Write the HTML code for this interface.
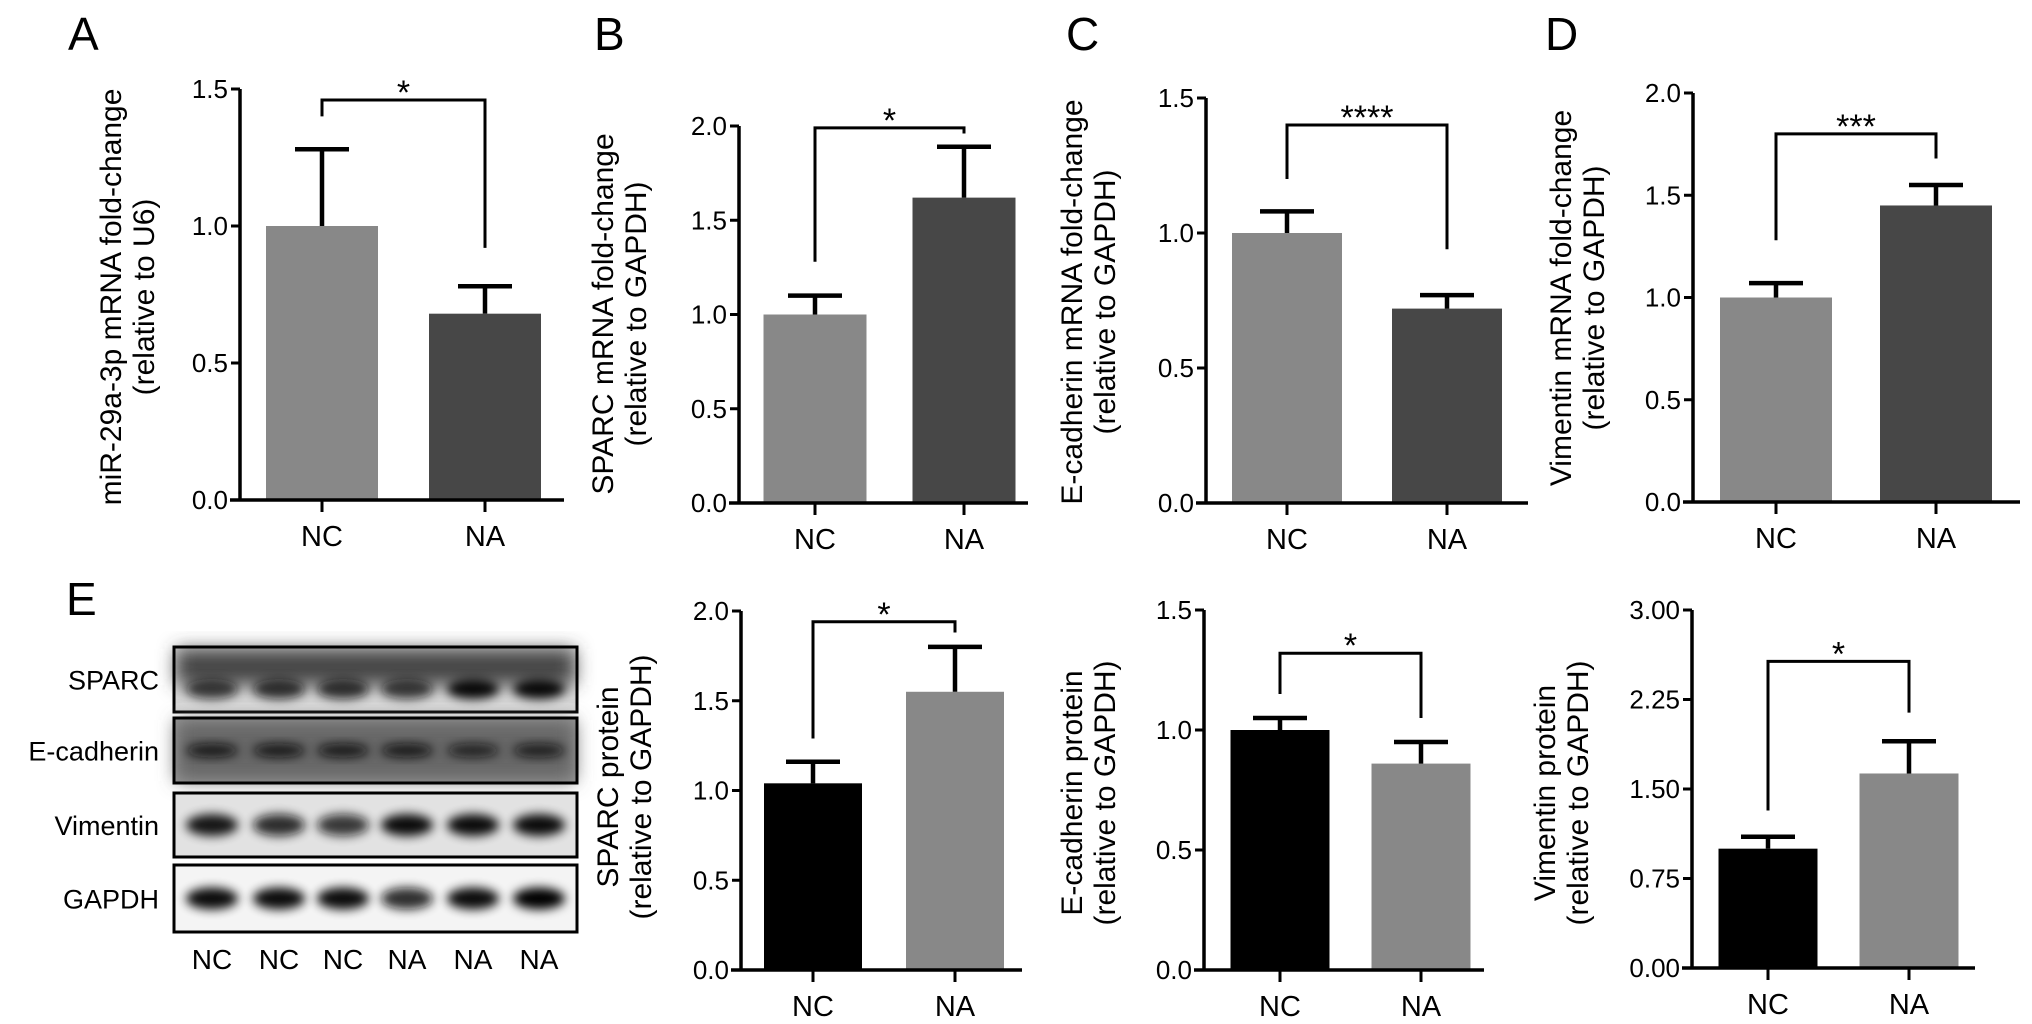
<!DOCTYPE html>
<html><head><meta charset="utf-8"><style>
html,body{margin:0;padding:0;background:#fff;}
svg{display:block;font-family:"Liberation Sans",Arial,sans-serif;}
</style></head><body>
<svg id="fig" width="2032" height="1024" viewBox="0 0 2032 1024" xmlns="http://www.w3.org/2000/svg">
<defs>
<filter id="blur" x="-20%" y="-50%" width="140%" height="200%"><feGaussianBlur stdDeviation="5"/></filter>
<filter id="blur2" x="-20%" y="-50%" width="140%" height="200%"><feGaussianBlur stdDeviation="9"/></filter>
</defs>
<g font-size="46">
<text x="68" y="50">A</text>
<text x="594" y="50">B</text>
<text x="1066" y="50">C</text>
<text x="1545" y="50">D</text>
<text x="66" y="615">E</text>
</g>
<g id="blot"></g>
<g id="charts"></g>
</svg>
<script>
// ---- data ----
const groups = ["NC", "NA"];
const aValues = [1.0, 0.68];   const aErrors = [0.28, 0.10];  const aBracket = [1.46, 1.40, 0.92]; const aSig = "*";
const bValues = [1.0, 1.62];   const bErrors = [0.10, 0.27];  const bBracket = [1.99, 1.28, 1.96]; const bSig = "*";
const cValues = [1.0, 0.72];   const cErrors = [0.08, 0.05];  const cBracket = [1.40, 1.20, 0.94]; const cSig = "****";
const dValues = [1.0, 1.45];   const dErrors = [0.07, 0.10];  const dBracket = [1.80, 1.28, 1.68]; const dSig = "***";
const e1Values = [1.04, 1.55]; const e1Errors = [0.12, 0.25]; const e1Bracket = [1.94, 1.29, 1.88]; const e1Sig = "*";
const e2Values = [1.0, 0.86];  const e2Errors = [0.05, 0.09]; const e2Bracket = [1.32, 1.15, 1.05]; const e2Sig = "*";
const e3Values = [1.0, 1.63];  const e3Errors = [0.10, 0.27]; const e3Bracket = [2.57, 1.32, 2.14]; const e3Sig = "*";
const ticks15 = [0, 0.5, 1.0, 1.5];   const ticks15Labels = ["0.0", "0.5", "1.0", "1.5"];
const ticks20 = [0, 0.5, 1.0, 1.5, 2.0]; const ticks20Labels = ["0.0", "0.5", "1.0", "1.5", "2.0"];
const ticks30 = [0, 0.75, 1.5, 2.25, 3.0]; const ticks30Labels = ["0.00", "0.75", "1.50", "2.25", "3.00"];
const blotRows = ["SPARC", "E-cadherin", "Vimentin", "GAPDH"];
const blotLanes = ["NC", "NC", "NC", "NA", "NA", "NA"];
const bandIntensity = [
  [0.75, 0.8, 0.8, 0.75, 0.95, 0.95],
  [0.85, 0.85, 0.85, 0.85, 0.75, 0.8],
  [0.9, 0.85, 0.8, 0.95, 0.95, 0.95],
  [0.95, 0.95, 0.95, 0.85, 0.95, 1.0]
];

const NS = "http://www.w3.org/2000/svg";
function mk(tag, attrs, parent) {
  const e = document.createElementNS(NS, tag);
  for (const k in attrs) e.setAttribute(k, attrs[k]);
  parent.appendChild(e);
  return e;
}
const charts = document.getElementById("charts");

function panel(id, cfg, values, errors, bracket, sig, ticks, tickLabels, titles) {
  const g = mk("g", {}, charts);
  
  
  const y = v => cfg.y0 - (v / cfg.max) * (cfg.y0 - cfg.yTop);
  values.forEach((v, i) => {
    const r = mk("rect", {x: cfg.cx[i] - cfg.bw / 2, y: y(v), width: cfg.bw, height: cfg.y0 - y(v), fill: cfg.colors[i]}, g);
    
    
    const top = y(v + errors[i]);
    const eb = mk("path", {d: `M${cfg.cx[i]},${y(v)}V${top}M${cfg.cx[i] - 27},${top}H${cfg.cx[i] + 27}`, stroke: "#000", "stroke-width": 4.5, fill: "none"}, g);
    
    
  });
  const ax = mk("path", {d: `M${cfg.ax},${cfg.yTop}V${cfg.y0}M${cfg.ax - 10},${cfg.y0}H${cfg.xEnd}`, stroke: "#000", "stroke-width": 3.5, fill: "none"}, g);
  
  
  ticks.forEach((t, i) => {
    mk("line", {x1: cfg.ax - 9, x2: cfg.ax, y1: y(t), y2: y(t), stroke: "#000", "stroke-width": 3}, g);
    const tl = mk("text", {x: cfg.ax - 12, y: y(t) + 9, "text-anchor": "end", "font-size": 26}, g);
    tl.textContent = tickLabels[i];
    
    
  });
  groups.forEach((gr, i) => {
    mk("line", {x1: cfg.cx[i], x2: cfg.cx[i], y1: cfg.y0, y2: cfg.y0 + 12, stroke: "#000", "stroke-width": 3}, g);
    const xl = mk("text", {x: cfg.cx[i], y: cfg.y0 + 46, "text-anchor": "middle", "font-size": 29}, g);
    xl.textContent = gr;
    
    
  });
  const br = mk("path", {d: `M${cfg.cx[0]},${y(bracket[1])}V${y(bracket[0])}H${cfg.cx[1]}V${y(bracket[2])}`, stroke: "#000", "stroke-width": 3, fill: "none"}, g);
  
  
  const st = mk("text", {x: (cfg.cx[0] + cfg.cx[1]) / 2, y: y(bracket[0]) + 4, "text-anchor": "middle", "font-size": 34}, g);
  st.textContent = sig;
  
  
  const tt = mk("text", {transform: `translate(${cfg.tx},${cfg.ty}) rotate(-90)`, "text-anchor": "middle", "font-size": 30}, g);
  
  
  titles.forEach((s, i) => {
    const ts = mk("tspan", {x: 0, y: i * 33 - 5}, tt);
    ts.textContent = s;
  });
}

const gray = "#888888", dark = "#474747", black = "#000000";
panel("a", {ax: 240, y0: 500, yTop: 89, max: 1.5, cx: [322, 485], bw: 112, xEnd: 564, colors: [gray, dark], tx: 126, ty: 297}, aValues, aErrors, aBracket, aSig, ticks15, ticks15Labels, ["miR-29a-3p mRNA fold-change", "(relative to U6)"]);
panel("b", {ax: 739, y0: 503, yTop: 126, max: 2, cx: [815, 964], bw: 103, xEnd: 1028, colors: [gray, dark], tx: 618, ty: 314}, bValues, bErrors, bBracket, bSig, ticks20, ticks20Labels, ["SPARC mRNA fold-change", "(relative to GAPDH)"]);
panel("c", {ax: 1206, y0: 503, yTop: 98, max: 1.5, cx: [1287, 1447], bw: 110, xEnd: 1528, colors: [gray, dark], tx: 1087, ty: 302}, cValues, cErrors, cBracket, cSig, ticks15, ticks15Labels, ["E-cadherin mRNA fold-change", "(relative to GAPDH)"]);
panel("d", {ax: 1693, y0: 502, yTop: 93, max: 2, cx: [1776, 1936], bw: 112, xEnd: 2020, colors: [gray, dark], tx: 1576, ty: 298}, dValues, dErrors, dBracket, dSig, ticks20, ticks20Labels, ["Vimentin mRNA fold-change", "(relative to GAPDH)"]);
panel("e-sparc", {ax: 741, y0: 970, yTop: 611, max: 2, cx: [813, 955], bw: 98, xEnd: 1022, colors: [black, gray], tx: 623, ty: 787}, e1Values, e1Errors, e1Bracket, e1Sig, ticks20, ticks20Labels, ["SPARC protein", "(relative to GAPDH)"]);
panel("e-ecad", {ax: 1204, y0: 970, yTop: 610, max: 1.5, cx: [1280, 1421], bw: 99, xEnd: 1484, colors: [black, gray], tx: 1087, ty: 793}, e2Values, e2Errors, e2Bracket, e2Sig, ticks15, ticks15Labels, ["E-cadherin protein", "(relative to GAPDH)"]);
panel("e-vim", {ax: 1692, y0: 968, yTop: 610, max: 3, cx: [1768, 1909], bw: 99, xEnd: 1975, colors: [black, gray], tx: 1560, ty: 793}, e3Values, e3Errors, e3Bracket, e3Sig, ticks30, ticks30Labels, ["Vimentin protein", "(relative to GAPDH)"]);

// ---- western blot ----
const blot = document.getElementById("blot");
const rowTop = [647, 718, 793, 865], rowH = [65, 65, 64, 67];
const laneX = [212, 279, 343, 407, 473, 539];
const bg = ["#d8d8d8", "#9a9a9a", "#e2e2e2", "#f4f4f4"];
blotRows.forEach((name, r) => {
  const g = mk("g", {}, blot);
  
  
  mk("rect", {x: 174, y: rowTop[r], width: 403, height: rowH[r], fill: bg[r]}, g);
  if (r === 0) mk("rect", {x: 176, y: rowTop[r] + 2, width: 399, height: 36, fill: "#444", filter: "url(#blur2)"}, g);
  if (r === 1) mk("rect", {x: 176, y: rowTop[r] + 2, width: 399, height: rowH[r] - 4, fill: "#666", filter: "url(#blur2)"}, g);
  laneX.forEach((x, i) => {
    const k = bandIntensity[r][i];
    const c = Math.round(60 - k * 60);
    const by = r === 0 ? rowTop[r] + 42 : rowTop[r] + rowH[r] * 0.5;
    const bh = r === 1 ? 10 : (r === 0 ? 16 : 18);
    mk("ellipse", {cx: x, cy: by, rx: 26, ry: bh / 2 + 2, fill: `rgb(${c},${c},${c})`, opacity: k, filter: "url(#blur)"}, g);
  });
  mk("rect", {x: 174, y: rowTop[r], width: 403, height: rowH[r], fill: "none", stroke: "#000", "stroke-width": 3}, g);
  const t = mk("text", {x: 159, y: rowTop[r] + rowH[r] / 2 + 10, "text-anchor": "end", "font-size": 27}, g);
  t.textContent = name;
  
  
});
blotLanes.forEach((l, i) => {
  const t = mk("text", {x: laneX[i], y: 969, "text-anchor": "middle", "font-size": 28}, blot);
  t.textContent = l;
  
  
});
</script>
</body></html>
